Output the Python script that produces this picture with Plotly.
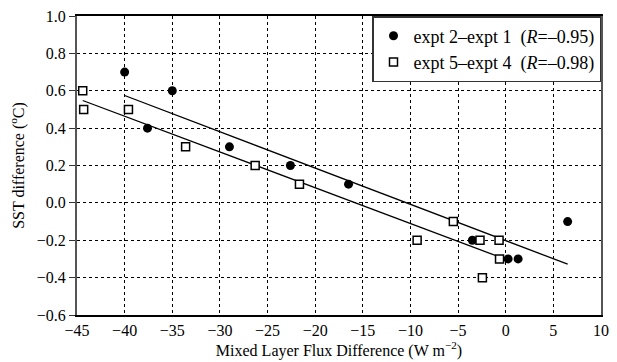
import numpy as np
import plotly.graph_objects as go

# expt 2 - expt 1 (filled circles)
x_a = [-40.0, -35.0, -37.6, -29.0, -22.6, -16.5, -3.5, 0.25, 1.3, 6.5]
y_a = [0.7, 0.6, 0.4, 0.3, 0.2, 0.1, -0.2, -0.3, -0.3, -0.1]
# expt 5 - expt 4 (open squares)
x_b = [-44.4, -44.3, -39.6, -33.6, -26.3, -21.65, -5.5, -9.3, -2.7, -0.7, -0.65, -2.45]
y_b = [0.6, 0.5, 0.5, 0.3, 0.2, 0.1, -0.1, -0.2, -0.2, -0.2, -0.3, -0.4]
names = ["expt 2–expt 1\u00a0\u00a0(<i>R</i>=–0.95)", "expt 5–expt 4\u00a0\u00a0(<i>R</i>=–0.98)"]

FONT = "Times New Roman, Liberation Serif, Times, serif"

def fit_line(x, y):
    x = np.asarray(x); y = np.asarray(y)
    m, c = np.polyfit(x, y, 1)
    xs = np.array([x.min(), x.max()])
    return xs, m * xs + c

fig = go.Figure()
for xs, ys in (fit_line(x_a, y_a), fit_line(x_b, y_b)):
    fig.add_trace(go.Scatter(x=xs, y=ys, mode="lines", line=dict(color="black", width=1.3),
                             showlegend=False, hoverinfo="skip"))

fig.add_trace(go.Scatter(x=x_a, y=y_a, mode="markers", name=names[0],
                         marker=dict(symbol="circle", size=9, color="black")))
fig.add_trace(go.Scatter(x=x_b, y=y_b, mode="markers", name=names[1],
                         marker=dict(symbol="square", size=8, color="white",
                                     line=dict(color="black", width=1.5))))

grid_common = dict(showgrid=True, gridcolor="black", griddash="dot", gridwidth=1,
                   zeroline=False, mirror=True, showline=True,
                   tickfont=dict(family=FONT, size=16, color="black"))

fig.update_xaxes(range=[-45, 10], dtick=5, tick0=-45,
                 linecolor="black", linewidth=1.5, ticks="", ticklabelstandoff=0,
                 title=dict(text="Mixed Layer Flux Difference (W m<sup>−2</sup>)",
                            font=dict(family=FONT, size=16, color="black"), standoff=4),
                 **grid_common)
fig.update_yaxes(range=[-0.6, 1.0], dtick=0.2, tickformat=".1f",
                 linecolor="#555555", linewidth=2, ticks="outside", ticklen=6,
                 tickcolor="#333333", tickwidth=1,
                 title=dict(text="SST difference (<sup>o</sup>C)",
                            font=dict(family=FONT, size=16, color="black"), standoff=8),
                 **grid_common)

fig.update_layout(
    width=617, height=362,
    margin=dict(l=77, r=8, t=13, b=47),
    paper_bgcolor="white", plot_bgcolor="white",
    font=dict(family=FONT, size=16, color="black"),
    legend=dict(x=1, y=1, xanchor="right", yanchor="top",
                bgcolor="white", bordercolor="#333333", borderwidth=1.5,
                font=dict(family=FONT, size=18, color="black"),
                itemwidth=30, tracegroupgap=0),
)

fig.write_html("out.html")
